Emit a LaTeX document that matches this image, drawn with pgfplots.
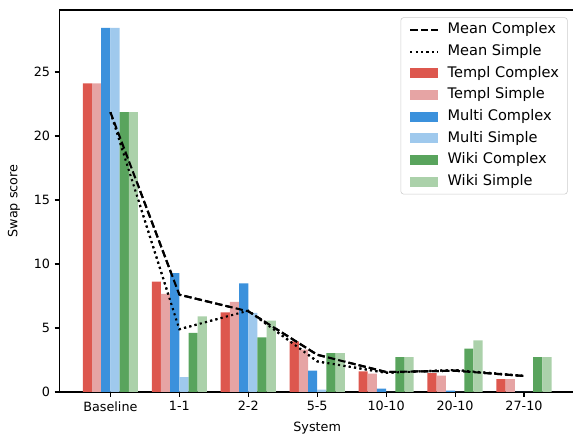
\documentclass[border=0pt]{standalone}
\usepackage{fontspec}
\setmainfont{DejaVu Sans}
\usepackage{pgfplots}
\pgfplotsset{compat=1.18}
\usetikzlibrary{calc}
\definecolor{tc}{RGB}{221,87,78}
\definecolor{ts}{RGB}{230,164,164}
\definecolor{mc}{RGB}{59,145,220}
\definecolor{ms}{RGB}{159,201,237}
\definecolor{wc}{RGB}{89,164,93}
\definecolor{ws}{RGB}{171,209,170}
\pgfplotsset{
  barleg/.style={legend image code/.code={\fill[##1, sharp corners] (0pt,-3.6pt) rectangle (19.7pt,3.6pt);}},
  lineleg/.style={legend image code/.code={\draw[##1, sharp corners] (0pt,0pt) -- (19.7pt,0pt);}},
}
\begin{document}
\fontsize{9.2}{11}\selectfont
\begin{tikzpicture}
\begin{axis}[
  scale only axis, width=371.6pt, height=275.3pt,
  xmin=-0.74, xmax=6.74, ymin=0, ymax=29.84,
  axis y line*=left, axis x line*=box,
  xtick={0,...,6}, xticklabels={Baseline,1-1,2-2,5-5,10-10,20-10,27-10},
  ytick={0,5,...,25},
  tick pos=left, tick align=outside, major tick length=3.5pt,
  axis line style={line width=0.8pt}, tick style={line width=0.8pt, black},
  /pgf/number format/assume math mode=true,
  ticklabel style={font=\fontsize{9.2}{11}\selectfont},
  label style={font=\fontsize{9.6}{11}\selectfont},
  xlabel={System}, ylabel={Swap score},
  every axis x label/.style={at={(axis description cs:0.5,-0.0934)}, anchor=center},
  every axis y label/.style={at={(axis description cs:-0.0883,0.5)}, anchor=center, rotate=90},
  bar width=0.1333,
  legend cell align=left,
  legend style={at={(1,1)}, anchor=north east, xshift=-5.3pt, yshift=-5.3pt,
    draw=black!20, rounded corners=2pt, fill=white, inner xsep=6pt, inner ysep=3.9pt,
    row sep=5.4pt, font=\fontsize{10.5}{12}\selectfont,
    nodes={inner sep=0pt, text height=7.8pt, text depth=2.4pt},
    /tikz/every odd column/.append style={column sep=6.5pt}},
]
\coordinate (SW) at (rel axis cs:0,0);
\coordinate (NE) at (rel axis cs:1,1);
% mean lines (legend entries)
\addplot[black, line width=1.5pt, dash pattern=on 5.3pt off 2.3pt, lineleg]
  coordinates {(0,21.86) (1,7.6) (2,6.3) (3,2.91) (4,1.56) (5,1.66) (6,1.25)};
\addlegendentry{Mean Complex}
\addplot[black, line width=1.5pt, dash pattern=on 1.5pt off 2.4pt, lineleg]
  coordinates {(0,21.86) (1,4.9) (2,6.35) (3,2.39) (4,1.5) (5,1.72) (6,1.25)};
\addlegendentry{Mean Simple}
% bars
\addplot[ybar, bar shift=-0.3333, fill=tc, draw=none, barleg]
  coordinates {(0,24.1) (1,8.63) (2,6.21) (3,3.95) (4,1.61) (5,1.48) (6,1.01)};
\addlegendentry{Templ Complex}
\addplot[ybar, bar shift=-0.2, fill=ts, draw=none, barleg]
  coordinates {(0,24.1) (1,7.67) (2,7.03) (3,3.3) (4,1.43) (5,1.27) (6,1.01)};
\addlegendentry{Templ Simple}
\addplot[ybar, bar shift=-0.0667, fill=mc, draw=none, barleg]
  coordinates {(0,28.45) (1,9.29) (2,8.48) (3,1.66) (4,0.26) (5,0.1) (6,0)};
\addlegendentry{Multi Complex}
\addplot[ybar, bar shift=0.0667, fill=ms, draw=none, barleg]
  coordinates {(0,28.45) (1,1.17) (2,6.17) (3,0.18) (4,0) (5,0) (6,0)};
\addlegendentry{Multi Simple}
\addplot[ybar, bar shift=0.2, fill=wc, draw=none, barleg]
  coordinates {(0,21.86) (1,4.61) (2,4.26) (3,3.04) (4,2.73) (5,3.38) (6,2.73)};
\addlegendentry{Wiki Complex}
\addplot[ybar, bar shift=0.3333, fill=ws, draw=none, barleg]
  coordinates {(0,21.86) (1,5.9) (2,5.57) (3,3.04) (4,2.73) (5,4.03) (6,2.73)};
\addlegendentry{Wiki Simple}
% mean lines on top
\addplot[black, line width=1.5pt, dash pattern=on 5.3pt off 2.3pt, forget plot]
  coordinates {(0,21.86) (1,7.6) (2,6.3) (3,2.91) (4,1.56) (5,1.66) (6,1.25)};
\addplot[black, line width=1.5pt, dash pattern=on 1.5pt off 2.4pt, forget plot]
  coordinates {(0,21.86) (1,4.9) (2,6.35) (3,2.39) (4,1.5) (5,1.72) (6,1.25)};
\end{axis}
\pgfresetboundingbox
\path[use as bounding box] ($(SW)+(-42.8pt,-31.5pt)$) rectangle ($(NE)+(-1.44pt,7.2pt)$);
\end{tikzpicture}
\end{document}
